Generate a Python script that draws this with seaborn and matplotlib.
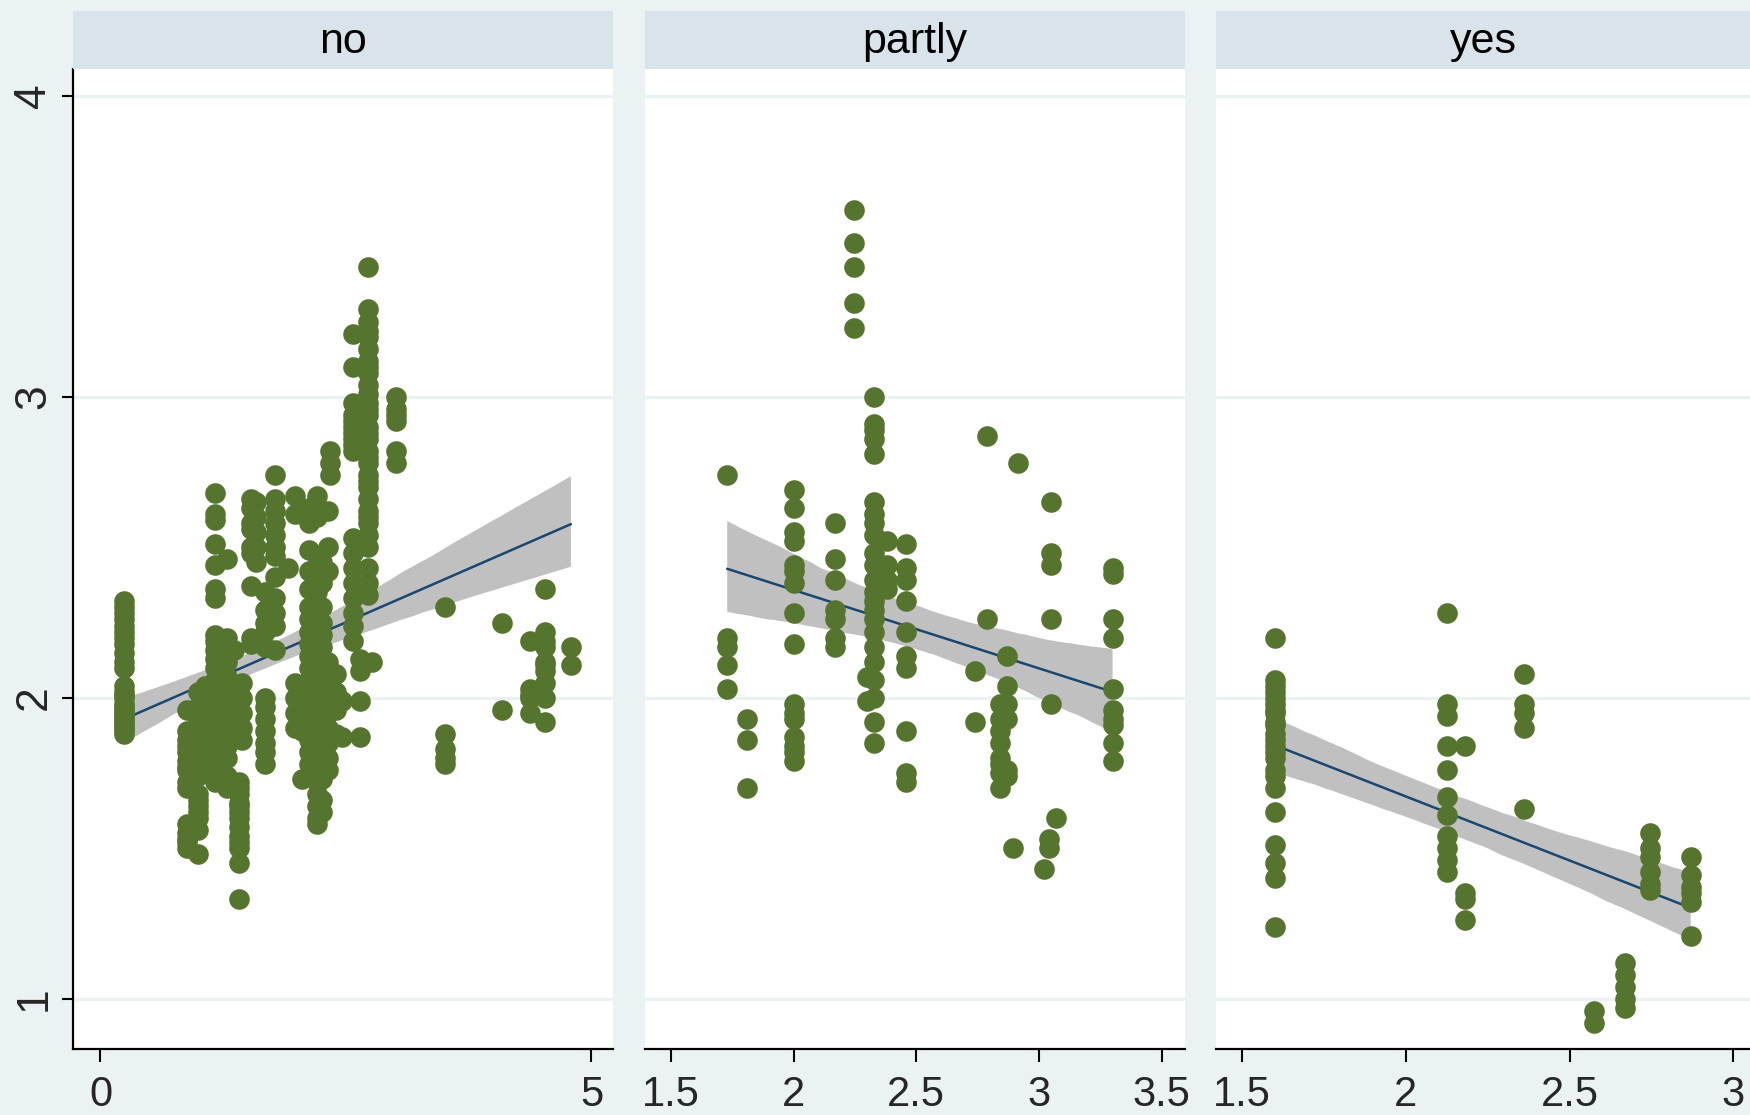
import matplotlib
matplotlib.use("Agg")
import matplotlib.pyplot as plt
from matplotlib.patches import Rectangle
import pandas as pd
import seaborn as sns

# ---- data: each entry is (x value, y values observed at that x) ----
groups = ["no", "partly", "yes"]

no_columns = [
    (0.24, [2.32, 2.30, 2.28, 2.26, 2.24, 2.22, 2.20, 2.18, 2.15, 2.12, 2.10, 2.04,
            2.02, 2.01, 2.00, 1.98, 1.97, 1.96, 1.95, 1.94, 1.93, 1.92, 1.91, 1.90,
            1.89, 1.88]),
    (0.88, [1.96, 1.89, 1.86, 1.84, 1.82, 1.79, 1.77, 1.76, 1.72, 1.70, 1.58, 1.55,
            1.53, 1.52, 1.50]),
    (0.99, [2.02, 1.97, 1.93, 1.88, 1.84, 1.82, 1.80, 1.77, 1.74, 1.68, 1.66, 1.64,
            1.62, 1.60, 1.56, 1.48]),
    (1.06, [2.04, 2.00, 1.90, 1.80, 1.75]),
    (1.17, [2.68, 2.61, 2.59, 2.51, 2.44, 2.36, 2.33, 2.21, 2.19, 2.16, 2.13, 2.10,
            2.06, 2.03, 2.00, 1.96, 1.92, 1.88, 1.85, 1.80, 1.76, 1.72]),
    (1.23, [2.08, 2.04, 1.98, 1.93, 1.87, 1.82, 1.78, 1.74]),
    (1.29, [2.46, 2.20, 2.17, 2.12, 2.07, 2.02, 1.97, 1.92, 1.88, 1.84, 1.80, 1.74, 1.70]),
    (1.36, [2.16, 2.02, 1.98, 1.92]),
    (1.41, [1.72, 1.70, 1.68, 1.65, 1.64, 1.62, 1.60, 1.57, 1.54, 1.52, 1.50, 1.45,
            1.33]),
    (1.44, [2.05, 2.00, 1.95, 1.90, 1.86]),
    (1.53, [2.66, 2.63, 2.58, 2.56, 2.50, 2.48, 2.37, 2.20, 2.18]),
    (1.58, [2.65, 2.60, 2.55, 2.50, 2.45]),
    (1.68, [2.35, 2.29, 2.25, 2.22, 2.17, 2.00, 1.97, 1.93, 1.89, 1.85, 1.82, 1.78]),
    (1.78, [2.74, 2.66, 2.62, 2.58, 2.54, 2.50, 2.47, 2.40, 2.33, 2.28, 2.24, 2.16]),
    (1.91, [2.43]),
    (1.98, [2.67, 2.61, 2.05, 2.00, 1.95, 1.90]),
    (2.05, [1.89, 1.73]),
    (2.12, [2.63, 2.58, 2.49, 2.42, 2.36, 2.30, 2.26, 2.22, 2.18, 2.14, 2.10, 2.06,
            2.02, 1.98, 1.94, 1.90, 1.86, 1.82, 1.78, 1.74]),
    (2.20, [2.67, 2.62, 2.60, 2.47, 2.40, 2.35, 2.30, 2.26, 2.23, 2.20, 2.17, 2.14,
            2.11, 2.08, 2.05, 2.02, 1.99, 1.96, 1.93, 1.90, 1.87, 1.84, 1.81, 1.78,
            1.75, 1.72, 1.68, 1.64, 1.60, 1.58]),
    (2.26, [2.45, 2.38, 2.30, 2.25, 2.21, 2.17, 2.13, 2.09, 2.05, 2.01, 1.97, 1.93,
            1.89, 1.85, 1.81, 1.77, 1.73, 1.66, 1.62]),
    (2.32, [2.62, 2.50, 2.42, 2.12, 2.06, 2.00, 1.95, 1.90, 1.85, 1.80, 1.76]),
    (2.34, [2.82, 2.78, 2.74]),
    (2.40, [2.08, 2.02, 1.96, 1.88]),
    (2.46, [1.99, 1.87]),
    (2.57, [3.21, 3.10, 2.98, 2.94, 2.92, 2.90, 2.88, 2.86, 2.84, 2.82, 2.53, 2.48,
            2.43, 2.38, 2.33, 2.28, 2.24, 2.19]),
    (2.64, [2.13, 2.09, 1.99, 1.87]),
    (2.72, [3.43, 3.29, 3.25, 3.22, 3.20, 3.16, 3.12, 3.10, 3.08, 3.04, 3.01, 2.98,
            2.96, 2.94, 2.90, 2.88, 2.86, 2.82, 2.80, 2.78, 2.74, 2.72, 2.70, 2.66,
            2.62, 2.60, 2.58, 2.54, 2.50, 2.43, 2.38, 2.34]),
    (2.76, [2.12]),
    (3.01, [3.00, 2.96, 2.94, 2.92, 2.82, 2.78]),
    (3.51, [2.30, 1.88, 1.83, 1.80, 1.78]),
    (4.09, [2.25, 1.96]),
    (4.37, [2.19, 2.03, 2.01, 2.00, 1.95]),
    (4.53, [2.36, 2.22, 2.19, 2.17, 2.12, 2.11, 2.09, 2.05, 2.00, 1.92]),
    (4.79, [2.17, 2.11]),
]

partly_columns = [
    (1.73, [2.74, 2.20, 2.17, 2.11, 2.03]),
    (1.81, [1.93, 1.86, 1.70]),
    (2.00, [2.69, 2.63, 2.55, 2.52, 2.44, 2.42, 2.38, 2.28, 2.18, 1.98, 1.95, 1.93,
            1.87, 1.84, 1.82, 1.79]),
    (2.17, [2.58, 2.46, 2.39, 2.29, 2.26, 2.20, 2.17]),
    (2.245, [3.62, 3.51, 3.43, 3.31, 3.23]),
    (2.30, [2.07, 1.99]),
    (2.33, [3.00, 2.91, 2.89, 2.86, 2.81, 2.65, 2.61, 2.58, 2.54, 2.48, 2.44, 2.39,
            2.35, 2.32, 2.29, 2.26, 2.22, 2.17, 2.12, 2.06, 2.00, 1.92, 1.85]),
    (2.38, [2.52, 2.44, 2.39, 2.36]),
    (2.46, [2.51, 2.43, 2.39, 2.32, 2.22, 2.14, 2.10, 1.89, 1.75, 1.72]),
    (2.74, [2.09, 1.92]),
    (2.79, [2.87, 2.26]),
    (2.84, [1.98, 1.93, 1.89, 1.85, 1.80, 1.78, 1.75, 1.70]),
    (2.87, [2.14, 2.04, 1.98, 1.93, 1.76, 1.74]),
    (2.895, [1.50]),
    (2.915, [2.78]),
    (3.02, [1.43]),
    (3.04, [1.53, 1.50]),
    (3.05, [2.65, 2.48, 2.44, 2.26, 1.98]),
    (3.07, [1.60]),
    (3.30, [2.43, 2.41, 2.26, 2.20, 2.03, 1.96, 1.93, 1.91, 1.85, 1.79]),
]

yes_columns = [
    (1.60, [2.20, 2.06, 2.04, 2.02, 2.00, 1.98, 1.96, 1.95, 1.92, 1.91, 1.88, 1.86,
            1.84, 1.82, 1.80, 1.76, 1.74, 1.70, 1.62, 1.51, 1.45, 1.40, 1.24]),
    (2.126, [2.28, 1.98, 1.94, 1.84, 1.76, 1.67, 1.61, 1.54, 1.50, 1.46, 1.42]),
    (2.18, [1.84, 1.35, 1.33, 1.26]),
    (2.36, [2.08, 1.98, 1.95, 1.90, 1.63]),
    (2.575, [0.96, 0.92]),
    (2.67, [1.12, 1.08, 1.04, 1.00, 0.97]),
    (2.745, [1.55, 1.50, 1.47, 1.42, 1.38, 1.36]),
    (2.87, [1.47, 1.41, 1.37, 1.35, 1.32, 1.21]),
]

x_limits = [(-0.285, 5.216), (1.395, 3.595), (1.42, 3.051)]
x_ticks = [[0, 5], [1.5, 2, 2.5, 3, 3.5], [1.5, 2, 2.5, 3]]
x_ticklabels = [["0", "5"], ["1.5", "2", "2.5", "3", "3.5"], ["1.5", "2", "2.5", "3"]]
y_ticks = [1, 2, 3, 4]
y_limits = (0.833, 4.089)

# ---- colours ----
OUTER = "#EAF2F3"
STRIP = "#D8E4EA"
GRID = "#EAF2F3"
MARKER = "#55752F"
FIT = "#1A476F"
BAND = "#C0C0C0"


def to_frame(columns, name):
    xs, ys = [], []
    for xv, yvals in columns:
        xs.extend([xv] * len(yvals))
        ys.extend(yvals)
    return pd.DataFrame({"x": xs, "y": ys, "group": name})


df = pd.concat([to_frame(c, g) for c, g in
                zip([no_columns, partly_columns, yes_columns], groups)],
               ignore_index=True)

sns.set_theme(style="white")
plt.rcParams["font.family"] = ["Liberation Sans", "DejaVu Sans"]
TICK_FAMILY = ["Liberation Sans Narrow", "Liberation Sans", "DejaVu Sans"]

W, H = 1750, 1115
grid = sns.FacetGrid(df, col="group", col_order=groups, sharex=False, sharey=True,
                     height=H / 100, aspect=W / H / 3, despine=False)
fig = grid.figure
fig.set_size_inches(W / 100, H / 100)
fig.patch.set_facecolor(OUTER)

panel_px = [(72.5, 612.7), (645, 1185), (1216, 1750)]
top_px, bottom_px, strip_top_px = 69, 1049, 11
TICK_FS = 30

for i, (ax, name) in enumerate(zip(grid.axes.flat, groups)):
    sub = df[df["group"] == name]
    sns.regplot(data=sub, x="x", y="y", ax=ax, scatter=False, ci=95,
                n_boot=1000, seed=3, color=FIT, line_kws=dict(lw=1.8, zorder=3))
    band = ax.collections[-1]
    band.set_facecolor(BAND)
    band.set_edgecolor("none")
    band.set_alpha(1)
    band.set_zorder(2)
    sns.scatterplot(data=sub, x="x", y="y", ax=ax, color=MARKER, s=220,
                    linewidth=0, legend=False, zorder=4)

    ax.set_facecolor("white")
    ax.set_title("")
    ax.set_xlabel("")
    ax.set_ylabel("")
    ax.set_xlim(*x_limits[i])
    ax.set_ylim(*y_limits)
    ax.set_xticks(x_ticks[i])
    ax.set_xticklabels(x_ticklabels[i], fontsize=TICK_FS, family=TICK_FAMILY)
    ax.set_yticks(y_ticks)
    ax.yaxis.grid(True, color=GRID, lw=2.3)
    ax.xaxis.grid(False)
    ax.set_axisbelow(True)
    for side in ["top", "right"]:
        ax.spines[side].set_visible(False)
    ax.spines["bottom"].set_color("black")
    ax.spines["bottom"].set_linewidth(1.6)
    ax.tick_params(axis="x", direction="out", length=9, width=1.5, color="black",
                   pad=10, bottom=True)
    if i == 0:
        ax.spines["left"].set_color("black")
        ax.spines["left"].set_linewidth(1.6)
        ax.set_yticklabels([str(t) for t in y_ticks], rotation=90, va="center",
                           fontsize=32, family=TICK_FAMILY)
        ax.tick_params(axis="y", direction="out", length=8, width=1.5,
                       color="black", pad=5, left=True)
    else:
        ax.spines["left"].set_visible(False)
        ax.tick_params(axis="y", length=0, labelleft=False, left=False)

    x0, x1 = panel_px[i]
    ax.set_position([x0 / W, 1 - bottom_px / H, (x1 - x0) / W,
                     (bottom_px - top_px) / H])
    fig.patches.append(Rectangle((x0 / W, 1 - top_px / H), (x1 - x0) / W,
                                 (top_px - strip_top_px) / H,
                                 transform=fig.transFigure, facecolor=STRIP,
                                 edgecolor="none", zorder=0))
    fig.text((x0 + x1) / 2 / W, 1 - (top_px + strip_top_px) / 2 / H - 0.002, name,
             ha="center", va="center", fontsize=31, color="black")

fig.savefig("out.png", dpi=100, facecolor=OUTER)
